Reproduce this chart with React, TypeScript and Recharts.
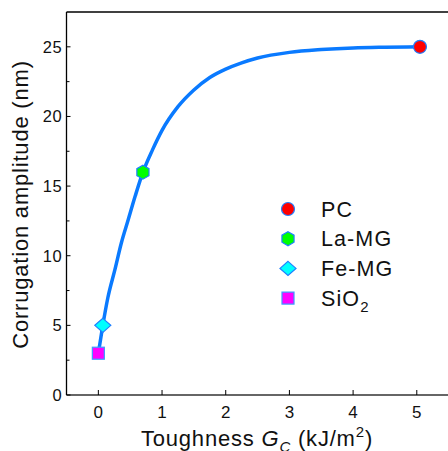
import React from "react";
import { ComposedChart, Line, Scatter, XAxis, YAxis, ReferenceLine } from "recharts";

// fitted curve
const curveX = [0, 0.07, 0.15, 0.26, 0.36, 0.47, 0.58, 0.7, 0.85, 1.0, 1.25, 1.5, 1.75, 2.0, 2.25, 2.5, 3.0, 3.5, 4.0, 4.5, 5.05];
const curveY = [3, 5, 7.0, 9.0, 10.9, 12.6, 14.3, 16.0, 17.6, 19.0, 20.7, 21.9, 22.8, 23.4, 23.85, 24.2, 24.6, 24.8, 24.92, 24.97, 25.0];

// measured points
const materials = ["PC", "La-MG", "Fe-MG", "SiO2"];
const toughness = [5.05, 0.7, 0.07, 0];
const amplitude = [25, 16, 5, 3];
const fills = ["#ff0000", "#00ff00", "#00ffff", "#ff00ff"];

const xTicks = [0, 1, 2, 3, 4, 5];
const yTicks = [0, 2.5, 5, 7.5, 10, 12.5, 15, 17.5, 20, 22.5, 25];

const curve = curveX.map((x, i) => ({ x, y: curveY[i] }));
const LINE = "#0a7aff";
const EDGE = "#1f7fff";
const FONT = "'Liberation Sans', Arial, sans-serif";

function Marker({ kind, cx, cy, fill }: { kind: number; cx: number; cy: number; fill: string }) {
  if (kind === 0) return <circle cx={cx} cy={cy} r={6.5} fill={fill} stroke={EDGE} strokeWidth={1.2} />;
  if (kind === 1) {
    const r = 7;
    const pts = [0, 1, 2, 3, 4, 5]
      .map((k) => {
        const a = (Math.PI / 3) * k - Math.PI / 2;
        return `${cx + r * Math.cos(a)},${cy + r * Math.sin(a)}`;
      })
      .join(" ");
    return <polygon points={pts} fill={fill} stroke={EDGE} strokeWidth={1.2} />;
  }
  if (kind === 2)
    return (
      <polygon
        points={`${cx},${cy - 7} ${cx + 8},${cy} ${cx},${cy + 7} ${cx - 8},${cy}`}
        fill={fill}
        stroke={EDGE}
        strokeWidth={1.2}
      />
    );
  return <rect x={cx - 6} y={cy - 6} width={12} height={12} fill={fill} stroke="#3a9cff" strokeWidth={1.2} />;
}

function YTick({ x, y, payload }: any) {
  const major = payload.value % 5 === 0;
  return (
    <g>
      <line x1={x} x2={x + (major ? 4 : 3)} y1={y} y2={y} stroke="#000" strokeWidth={1} />
      {major && (
        <text x={x - 4.5} y={y} dy="0.36em" textAnchor="end" fontSize={16.5} fontFamily={FONT} fill="#111" letterSpacing={0.4}>
          {payload.value}
        </text>
      )}
    </g>
  );
}

function XTick({ x, y, payload }: any) {
  return (
    <g>
      <line x1={x} x2={x} y1={y} y2={y - 5} stroke="#000" strokeWidth={1} />
      <text x={x} y={y + 22.5} textAnchor="middle" fontSize={17} fontFamily={FONT} fill="#111">
        {payload.value}
      </text>
    </g>
  );
}

function YLabel({ viewBox }: any) {
  const cy = viewBox.y + viewBox.height / 2 + 1;
  return (
    <text
      x={20}
      y={cy}
      transform={`rotate(-90, 20, ${cy})`}
      textAnchor="middle"
      dy="0.36em"
      fontSize={22}
      fontFamily={FONT}
      fill="#111"
      letterSpacing={0.8}
    >
      Corrugation amplitude (nm)
    </text>
  );
}

function XLabel() {
  return (
    <text x={257} y={446} textAnchor="middle" fontSize={22} fontFamily={FONT} fill="#111" letterSpacing={0.8}>
      Toughness <tspan fontStyle="italic">G</tspan>
      <tspan fontStyle="italic" fontSize={15} dy={6}>C</tspan>
      <tspan dy={-6}> (kJ/m</tspan>
      <tspan fontSize={15} dy={-9}>2</tspan>
      <tspan dy={9}>)</tspan>
    </text>
  );
}

function LegendBox() {
  return (
    <svg width={150} height={125} style={{ position: "absolute", left: 275, top: 195 }}>
      {materials.map((m, i) => (
        <g key={m}>
          <Marker kind={i} cx={13} cy={14 + i * 29.7} fill={fills[i]} />
          <text x={46} y={14 + i * 29.7} dy="0.36em" fontSize={21.5} fontFamily={FONT} fill="#111" letterSpacing={1.1}>
            {m === "SiO2" ? (
              <>
                SiO<tspan fontSize={15} dy={6}>2</tspan>
              </>
            ) : (
              m
            )}
          </text>
        </g>
      ))}
    </svg>
  );
}

export default function App() {
  return (
    <div style={{ position: "absolute", left: 0, top: 0, width: 448, height: 451, overflow: "hidden", background: "#fff" }}>
      <ComposedChart width={448} height={451} margin={{ top: 12, right: 0, bottom: 0, left: 0 }}>
        <XAxis
          type="number"
          dataKey="x"
          domain={[-0.5, 5.49]}
          ticks={xTicks}
          tickSize={0}
          tickMargin={0}
          tick={<XTick />}
          height={56}
          axisLine={{ stroke: "#333", strokeWidth: 1.3 }}
          allowDataOverflow
          label={<XLabel />}
        />
        <YAxis
          type="number"
          dataKey="y"
          domain={[0, 27.5]}
          ticks={yTicks}
          tickSize={0}
          tickMargin={0}
          tick={<YTick />}
          width={66.5}
          axisLine={{ stroke: "#000", strokeWidth: 1.3 }}
          allowDataOverflow
          label={<YLabel />}
        />
        <ReferenceLine y={27.5} stroke="#000" strokeWidth={1.5} />
        <Line data={curve} dataKey="y" type="monotone" stroke={LINE} strokeWidth={3.5} dot={false} isAnimationActive={false} />
        {materials.map((m, i) => (
          <Scatter
            key={m}
            name={m}
            data={[{ x: toughness[i], y: amplitude[i] }]}
            dataKey="y"
            isAnimationActive={false}
            shape={(p: any) => <Marker kind={i} cx={p.cx} cy={p.cy} fill={fills[i]} />}
          />
        ))}
      </ComposedChart>
      <LegendBox />
    </div>
  );
}
